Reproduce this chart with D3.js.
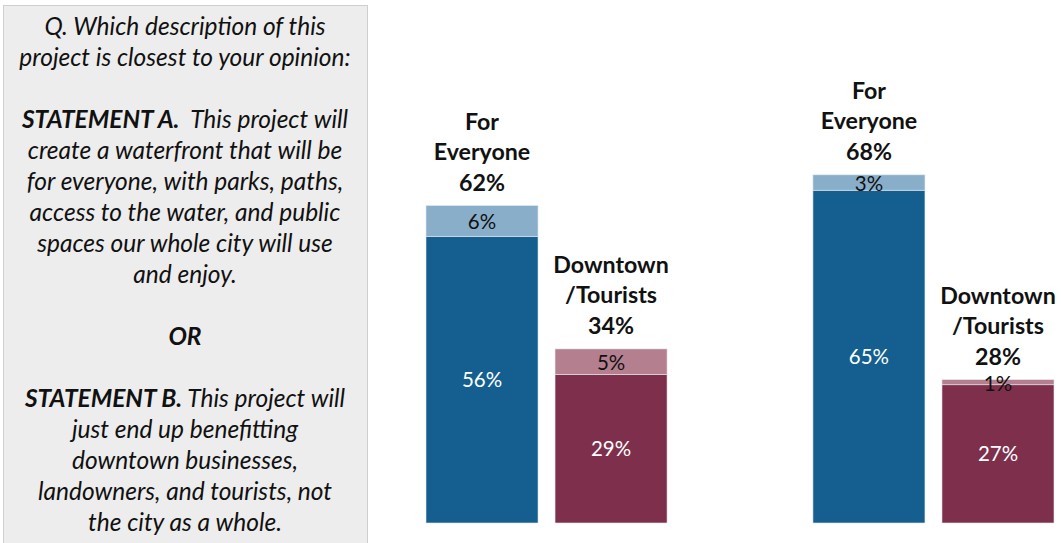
<!DOCTYPE html>
<html><head><meta charset="utf-8">
<script src="https://cdn.jsdelivr.net/npm/d3@7/dist/d3.min.js"></script>
<style>body{margin:0;background:#fff;}svg{display:block;}</style>
</head><body>
<svg id="c" width="1061" height="543"></svg>
<script>
const panels = ["Panel 1", "Panel 2"];
const categories = ["For Everyone", "Downtown/Tourists"];
const headerLines = [["For", "Everyone"], ["Downtown", "/Tourists"]];
const strongValues = [[56, 29], [65, 27]];
const softValues = [[6, 5], [3, 1]];
const totalValues = [[62, 34], [68, 28]];
const darkColors = ["#145f8f", "#7e2f4c"];
const lightColors = ["#88aec9", "#b47f8e"];
const questionLines = [
  [{t:"Q. Which description of this", b:false}],
  [{t:"project is closest to your opinion:", b:false}],
  [],
  [{t:"STATEMENT A.", b:true}, {t:"  This project will", b:false}],
  [{t:"create a waterfront that will be", b:false}],
  [{t:"for everyone, with parks, paths,", b:false}],
  [{t:"access to the water, and public", b:false}],
  [{t:"spaces our whole city will use", b:false}],
  [{t:"and enjoy.", b:false}],
  [],
  [{t:"OR", b:true}],
  [],
  [{t:"STATEMENT B.", b:true}, {t:" This project will", b:false}],
  [{t:"just end up benefitting", b:false}],
  [{t:"downtown businesses,", b:false}],
  [{t:"landowners, and tourists, not", b:false}],
  [{t:"the city as a whole.", b:false}]
];

const svg = d3.select("#c");
const font = "Lato, 'Open Sans', sans-serif";

// left question box
svg.append("rect").attr("x", 3.5).attr("y", 5.5).attr("width", 364).attr("height", 545)
  .attr("fill", "#ededed").attr("stroke", "#cfcfcf");
const qt = svg.append("g").attr("font-family", font).attr("font-size", 24.5)
  .attr("font-style", "italic").attr("fill", "#111").attr("text-anchor", "middle");
questionLines.forEach((line, i) => {
  if (!line.length) return;
  const t = qt.append("text").attr("x", 185).attr("y", 35 + i * 31);
  line.forEach(s => t.append("tspan").attr("font-weight", s.b ? "bold" : "normal")
    .style("white-space", "pre").text(s.t));
});
qt.selectAll("text").attr("xml:space", "preserve");

// scales
const y = d3.scaleLinear().domain([0, 100]).range([523, 11]);
const outer = d3.scaleBand().domain(panels).range([426, 1054]).paddingInner(0.377);
const inner = d3.scaleBand().domain(categories).range([0, outer.bandwidth()]).paddingInner(0.1318);

panels.forEach((p, pi) => {
  const g = svg.append("g").attr("transform", `translate(${outer(p)},0)`);
  categories.forEach((c, ci) => {
    const x = inner(c), w = inner.bandwidth();
    const s = strongValues[pi][ci], f = softValues[pi][ci];
    g.append("rect").attr("x", x).attr("width", w)
      .attr("y", y(s)).attr("height", y(0) - y(s)).attr("fill", darkColors[ci])
      .attr("stroke", "#e4e8ee").attr("stroke-width", 0.6);
    g.append("rect").attr("x", x).attr("width", w)
      .attr("y", y(s + f)).attr("height", y(s) - y(s + f)).attr("fill", lightColors[ci])
      .attr("stroke", "#e4e8ee").attr("stroke-width", 0.6);
    g.append("text").attr("x", x + w / 2).attr("y", (y(s) + y(0)) / 2 + 7)
      .attr("text-anchor", "middle").attr("font-family", font).attr("font-size", 20.5)
      .attr("fill", "#fff").text(s + "%");
    g.append("text").attr("x", x + w / 2).attr("y", (y(s + f) + y(s)) / 2 + 8.5)
      .attr("text-anchor", "middle").attr("font-family", font).attr("font-size", 20.5)
      .attr("fill", "#111").text(f + "%");
    const tot = totalValues[pi][ci];
    const top = y(s + f);
    const lines = headerLines[ci].concat([tot + "%"]);
    lines.forEach((l, li) => {
      g.append("text").attr("x", x + w / 2).attr("y", top - 15 - (lines.length - 1 - li) * 30.5)
        .attr("text-anchor", "middle").attr("font-family", font).attr("font-size", 23.2)
        .attr("font-weight", "bold").attr("fill", "#111").text(l);
    });
  });
});
</script>
</body></html>
